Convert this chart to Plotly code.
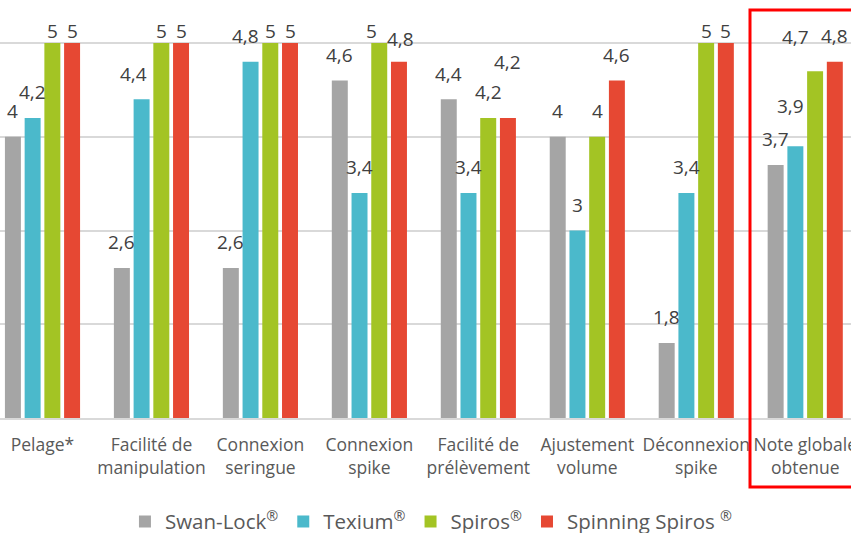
import plotly.graph_objects as go

categories = ["Pelage*", "Facilité de<br>manipulation", "Connexion<br>seringue", "Connexion<br>spike",
              "Facilité de<br>prélèvement", "Ajustement<br>volume", "Déconnexion<br>spike", "Note globale<br>obtenue"]
swan_lock = [4, 2.6, 2.6, 4.6, 4.4, 4, 1.8, 3.7]
texium = [4.2, 4.4, 4.8, 3.4, 3.4, 3, 3.4, 3.9]
spiros = [5, 5, 5, 5, 4.2, 4, 5, 4.7]
spinning = [5, 5, 5, 4.8, 4.2, 4.6, 5, 4.8]
series_names = ["Swan-Lock<sup>®</sup>", "Texium<sup>®</sup>", "Spiros<sup>®</sup>", "Spinning Spiros <sup>®</sup>"]
colors = ["#a5a5a5", "#4bb9cb", "#a3c424", "#e64833"]

# style: manual label nudges (series index, category index) -> (dx px, extra dy px)
label_nudge = {(1, 1): (-8, 0), (1, 2): (-5, 0), (2, 3): (-8, 0), (3, 3): (2, -3),
               (3, 4): (0, 30), (1, 7): (-5, 14), (2, 7): (-20, 8)}

def fmt(v):
    return ("%g" % v).replace(".", ",")

fig = go.Figure()
xs = list(range(len(categories)))
all_series = [swan_lock, texium, spiros, spinning]
for name, vals, c in zip(series_names, all_series, colors):
    fig.add_trace(go.Bar(
        x=xs, y=[v - 1 for v in vals], base=1, name=name,
        marker=dict(color=c, line=dict(width=0)),
        cliponaxis=False,
    ))

bargap, bargroupgap = 0.276, 0.19
slot = (1 - bargap) / len(all_series)
for si, vals in enumerate(all_series):
    off = (si - (len(all_series) - 1) / 2) * slot
    for ci, v in enumerate(vals):
        dx, dy = label_nudge.get((si, ci), (0, 0))
        fig.add_annotation(
            x=ci + off, y=min(v + 0.115, 4.97), xref="x", yref="y",
            text=fmt(v), showarrow=False, yanchor="bottom", xanchor="center",
            xshift=dx, yshift=dy,
            font=dict(size=19, color="#404040", family="Open Sans"),
        )

fig.update_layout(
    width=851, height=533,
    margin=dict(l=0, r=0, t=0, b=115, autoexpand=False),
    paper_bgcolor="white", plot_bgcolor="white",
    barmode="group", bargap=bargap, bargroupgap=bargroupgap,
    font=dict(family="Open Sans", color="#595959"),
    showlegend=True,
    legend=dict(orientation="h", x=0.507, xanchor="center", y=-0.248, yanchor="middle",
                font=dict(size=20.5, color="#595959"), itemwidth=30, traceorder="normal"),
)
fig.update_xaxes(
    range=[-0.39, 7.42], tickmode="array", tickvals=xs, ticktext=categories,
    showline=True, linecolor="#d9d9d9", linewidth=2, showgrid=False, zeroline=False,
    ticks="", ticklabelstandoff=10, ticklabeloverflow="allow",
    tickfont=dict(size=17.5, color="#595959", family="Open Sans"),
)
fig.update_yaxes(
    range=[1, 5.46], dtick=1, tick0=1, showticklabels=False, showgrid=True,
    gridcolor="#d9d9d9", gridwidth=1.5, zeroline=False, showline=False,
)
fig.add_shape(type="rect", xref="paper", yref="paper", x0=750 / 851, x1=1.02,
              y0=(418 - 487) / 418, y1=(418 - 10) / 418,
              line=dict(color="#ff0000", width=3), fillcolor="rgba(0,0,0,0)", layer="above")

fig.write_html("out.html", post_script="document.body.style.margin='0px';",
               config={"displayModeBar": False})
